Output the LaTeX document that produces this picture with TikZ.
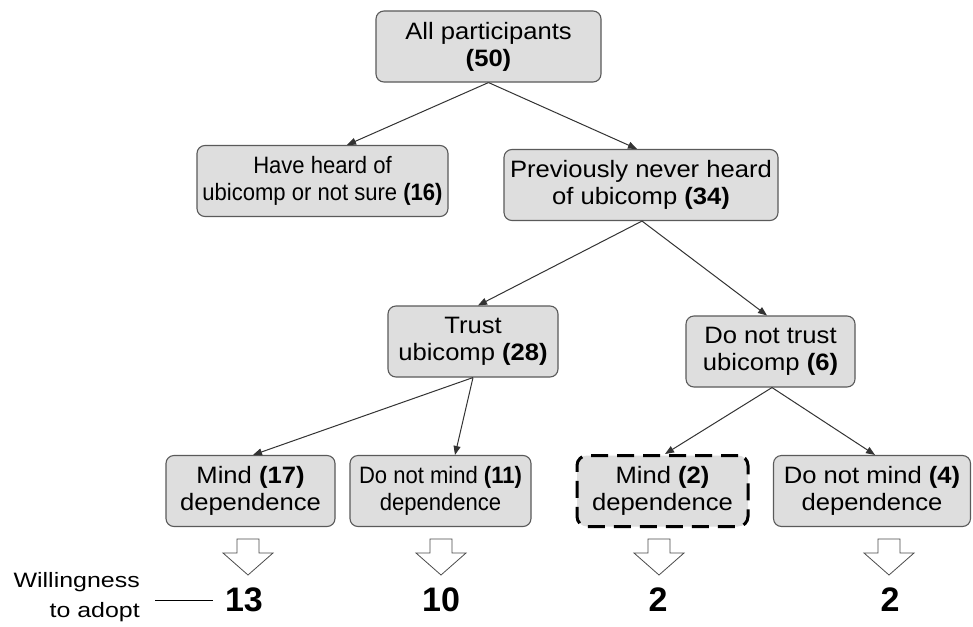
\documentclass[tikz,border=0pt]{standalone}
\usepackage{fontspec}
\setmainfont{Liberation Sans}
\newfontfamily\labfont{Liberation Sans}[FakeStretch=1.08]
\newfontfamily\narrowfont{Liberation Sans}[FakeStretch=0.93]
\newfontfamily\sidefont{Liberation Sans}[FakeStretch=1.2]
\newfontfamily\numfont{Liberation Sans}
\usetikzlibrary{arrows.meta,calc}
\definecolor{boxfill}{HTML}{DEDEDE}
\definecolor{boxline}{HTML}{5A5A5A}
\definecolor{connc}{HTML}{333333}
\begin{document}
\begin{tikzpicture}[x=1pt,y=-1pt,
  box/.style={draw=boxline, line width=1.1pt, fill=boxfill, rounded corners=8pt,
    minimum height=71pt, inner sep=0pt, align=center,
    font=\labfont\fontsize{23.7}{27}\selectfont},
  narrowbox/.style={box, font=\narrowfont\fontsize{23.7}{27}\selectfont},
  dashbox/.style={box, draw=black, line width=3pt, dash pattern=on 17pt off 9pt, rounded corners=10pt},
  conn/.style={draw=connc, line width=1pt, -{Triangle[length=9pt,width=7pt]}},
  bignum/.style={inner sep=0pt, font=\numfont\bfseries\fontsize{34}{40}\selectfont},
  sidelabel/.style={inner sep=0pt, align=right, font=\sidefont\fontsize{20.8}{30}\selectfont},
  hollowdown/.pic={\draw[line width=0.8pt, draw=black!70, fill=white]
    (-11,0) -- (11,0) -- (11,14) -- (25,14) -- (0,36) -- (-25,14) -- (-11,14) -- cycle;}
]
\fill[white] (0,0) rectangle (973,626);
\useasboundingbox (0,0) rectangle (973,626);

\node[box, minimum width=225pt] (all) at (488.5,46.5) {All participants\\\textbf{(50)}};
\node[narrowbox, minimum width=251pt] (have) at (322.5,181) {Have heard of\\ubicomp or not sure \textbf{(16)}};
\node[box, minimum width=274pt] (prev) at (641,185) {Previously never heard\\of ubicomp \textbf{(34)}};
\node[box, minimum width=170pt] (trust) at (473,341.5) {Trust\\ubicomp \textbf{(28)}};
\node[box, minimum width=169pt] (dnt) at (770.5,351.5) {Do not trust\\ubicomp \textbf{(6)}};
\node[box, minimum width=169pt] (m17) at (250.5,491) {Mind \textbf{(17)}\\dependence};
\node[narrowbox, minimum width=181pt] (n11) at (440.5,491) {Do not mind \textbf{(11)}\\dependence};
\node[dashbox, minimum width=171pt] (m2) at (662.5,491) {Mind \textbf{(2)}\\dependence};
\node[box, minimum width=197pt] (n4) at (872,491) {Do not mind \textbf{(4)}\\dependence};

\draw[conn] (all.south) -- ([xshift=24.5pt]have.north);
\draw[conn] (all.south) -- ([xshift=-4pt]prev.north);
\draw[conn] ([xshift=1pt]prev.south) -- ([xshift=5pt]trust.north);
\draw[conn] ([xshift=1pt]prev.south) -- ([xshift=-3.5pt]dnt.north);
\draw[conn] (trust.south) -- ([xshift=2.5pt]m17.north);
\draw[conn] (trust.south) -- ([xshift=14.5pt]n11.north);
\draw[conn] ([xshift=1.5pt]dnt.south) -- ([xshift=2.5pt]m2.north);
\draw[conn] ([xshift=1.5pt]dnt.south) -- ([xshift=3pt]n4.north);

\pic at (248,539) {hollowdown};
\pic at (441,539) {hollowdown};
\pic at (659,539) {hollowdown};
\pic at (889,539) {hollowdown};

\node[bignum] (v13) at (244,600) {13};
\node[bignum] (v10) at (441,600) {10};
\node[bignum] (v2a) at (658,600) {2};
\node[bignum] (v2b) at (890,600) {2};

\node[sidelabel, anchor=north east] (will) at (140,572.5) {Willingness\\to adopt};
\draw[line width=0.8pt] ($(will.east |- v13.west)+(15pt,0)$) -- ($(v13.west)+(-12pt,0)$);
\end{tikzpicture}
\end{document}
